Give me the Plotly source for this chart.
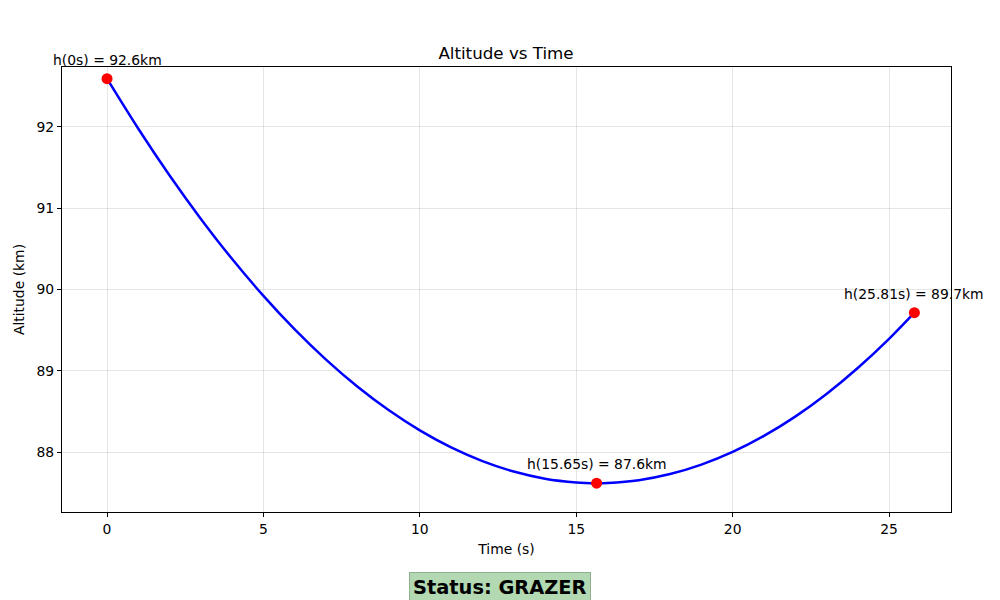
import plotly.graph_objects as go

# Values
time_s = [0, 1, 2, 3, 4, 5, 6, 7, 8, 9, 10, 11, 12, 13, 14, 15, 15.65, 16, 17, 18, 19, 20, 21, 22, 23, 24, 25, 25.81]
altitude_km = [92.594, 91.978, 91.403, 90.869, 90.375, 89.922, 89.509, 89.137, 88.806, 88.516, 88.266,
               88.056, 87.888, 87.760, 87.672, 87.626, 87.617, 87.620, 87.654, 87.729, 87.845, 88.001,
               88.199, 88.436, 88.715, 89.034, 89.393, 89.715]

key_times = [0, 15.65, 25.81]
key_alts = [92.594, 87.617, 89.715]
key_labels = ["h(0s) = 92.6km", "h(15.65s) = 87.6km", "h(25.81s) = 89.7km"]

status_text = "Status: GRAZER"

font_family = "DejaVu Sans, Liberation Sans, sans-serif"
fs = 13.9

fig = go.Figure()
fig.add_trace(go.Scatter(x=time_s, y=altitude_km, mode="lines",
                         line=dict(color="blue", width=2.5, shape="spline"),
                         hoverinfo="skip", showlegend=False))
fig.add_trace(go.Scatter(x=key_times, y=key_alts, mode="markers",
                         marker=dict(color="red", size=11),
                         showlegend=False, cliponaxis=False))

for t, h, lab in zip(key_times, key_alts, key_labels):
    fig.add_annotation(x=t, y=h, text=lab, showarrow=False, yshift=19,
                       font=dict(size=fs, color="black", family=font_family))

fig.add_annotation(xref="paper", yref="paper", x=0.4927, y=-0.169, text="<b>" + status_text + "</b>",
                   showarrow=False, font=dict(size=19.4, color="black", family=font_family),
                   bgcolor="#b2d9b2", bordercolor="#8fb08f", borderwidth=1, borderpad=3,
                   yanchor="middle")

axis_common = dict(showline=True, linecolor="black", linewidth=1, mirror=True,
                   showgrid=True, gridcolor="rgba(0,0,0,0.1)", gridwidth=1,
                   ticks="outside", ticklen=4, tickcolor="black", zeroline=False,
                   automargin=False,
                   tickfont=dict(size=fs, color="black", family=font_family))

fig.update_xaxes(range=[-1.44, 26.98], tickvals=[0, 5, 10, 15, 20, 25],
                 title=dict(text="Time (s)", font=dict(size=fs, color="black", family=font_family), standoff=8),
                 **axis_common)
fig.update_yaxes(range=[87.262, 92.738], tickvals=[88, 89, 90, 91, 92],
                 title=dict(text="Altitude (km)", font=dict(size=fs, color="black", family=font_family), standoff=8),
                 **axis_common)

fig.update_layout(
    width=992, height=592,
    plot_bgcolor="white", paper_bgcolor="white",
    margin=dict(l=54, r=49, t=59, b=88),
    title=dict(text="Altitude vs Time", x=(506 - 8) / 992, xanchor="center", y=1 - (53 - 8) / 592, yanchor="middle",
               font=dict(size=16.7, color="black", family=font_family)),
    font=dict(family=font_family),
)

fig.write_html("out.html")
